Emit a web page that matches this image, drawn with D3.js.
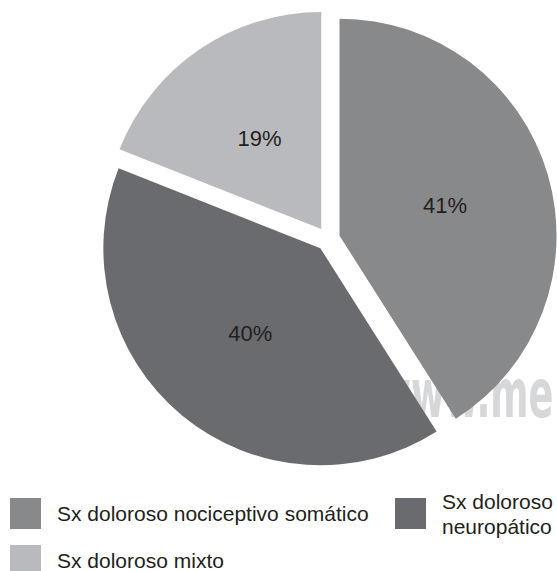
<!DOCTYPE html>
<html>
<head>
<meta charset="utf-8">
<script src="https://cdn.jsdelivr.net/npm/d3@7/dist/d3.min.js"></script>
<style>
  body { margin: 0; background: #fff; }
  text { font-family: "Liberation Sans", Arial, Helvetica, sans-serif; }
</style>
</head>
<body>
<div id="chart"></div>
<script>
// data
var categories = ["Sx doloroso nociceptivo somático", "Sx doloroso neuropático", "Sx doloroso mixto"];
var values = [41, 40, 19];
var colors = ["#88898b", "#6a6b6e", "#b9babd"];

var width = 557, height = 571;
var cx = 328, cy = 239;      // pie centre
var radius = 217;
var explode = 12;            // each slice pushed out along its mid angle
var labelRadius = 110;

var svg = d3.select("#chart")
  .append("svg")
  .attr("width", width)
  .attr("height", height);

// faint watermark sitting behind the slices
svg.append("text")
  .attr("transform", "translate(377,417) scale(0.54,1)")
  .style("font-family", "'DejaVu Sans', sans-serif")
  .attr("font-size", 68)
  .attr("font-weight", "bold")
  .attr("fill", "#d6d7d9")
  .text("www.me");

var pie = d3.pie().sort(null).value(function (d) { return d; });
var arcs = pie(values);

var arc = d3.arc().innerRadius(0).outerRadius(radius);

function shift(d, dist) {
  var a = (d.startAngle + d.endAngle) / 2;
  return [Math.sin(a) * dist, -Math.cos(a) * dist];
}

var g = svg.append("g").attr("transform", "translate(" + cx + "," + cy + ")");

var slice = g.selectAll(".slice")
  .data(arcs)
  .enter().append("g")
  .attr("class", "slice")
  .attr("transform", function (d) {
    var o = shift(d, explode);
    return "translate(" + o[0] + "," + o[1] + ")";
  });

slice.append("path")
  .attr("d", arc)
  .attr("fill", function (d, i) { return colors[i]; });

slice.append("text")
  .attr("x", function (d) { return shift(d, labelRadius)[0]; })
  .attr("y", function (d) { return shift(d, labelRadius)[1]; })
  .attr("text-anchor", "middle")
  .attr("dy", "0.36em")
  .attr("font-size", 22)
  .attr("fill", "#231f20")
  .text(function (d) { return d.data + "%"; });

// legend: two columns, row-major
var legendX = [10, 395];
var legendY = [498, 545];
var box = 31;

var legend = svg.selectAll(".legend")
  .data(categories)
  .enter().append("g")
  .attr("class", "legend")
  .attr("transform", function (d, i) {
    return "translate(" + legendX[i % 2] + "," + legendY[Math.floor(i / 2)] + ")";
  });

legend.append("rect")
  .attr("width", box)
  .attr("height", box)
  .attr("fill", function (d, i) { return colors[i]; });

legend.each(function (d, i) {
  var maxW = width - legendX[i % 2] - box - 16 - 2;
  var t = d3.select(this).append("text")
    .attr("x", box + 16)
    .attr("font-size", 21)
    .attr("fill", "#231f20");
  var words = d.split(" "), line = [], lines = [];
  var tmp = t.append("tspan");
  words.forEach(function (w) {
    line.push(w);
    tmp.text(line.join(" "));
    if (tmp.node().getComputedTextLength() > maxW && line.length > 1) {
      line.pop();
      lines.push(line.join(" "));
      line = [w];
    }
  });
  lines.push(line.join(" "));
  tmp.remove();
  var lh = 25;
  var y0 = 23 - (lines.length - 1) * lh / 2;
  lines.forEach(function (s, k) {
    t.append("tspan")
      .attr("x", box + 16)
      .attr("y", y0 + k * lh)
      .text(s);
  });
});
</script>
</body>
</html>
